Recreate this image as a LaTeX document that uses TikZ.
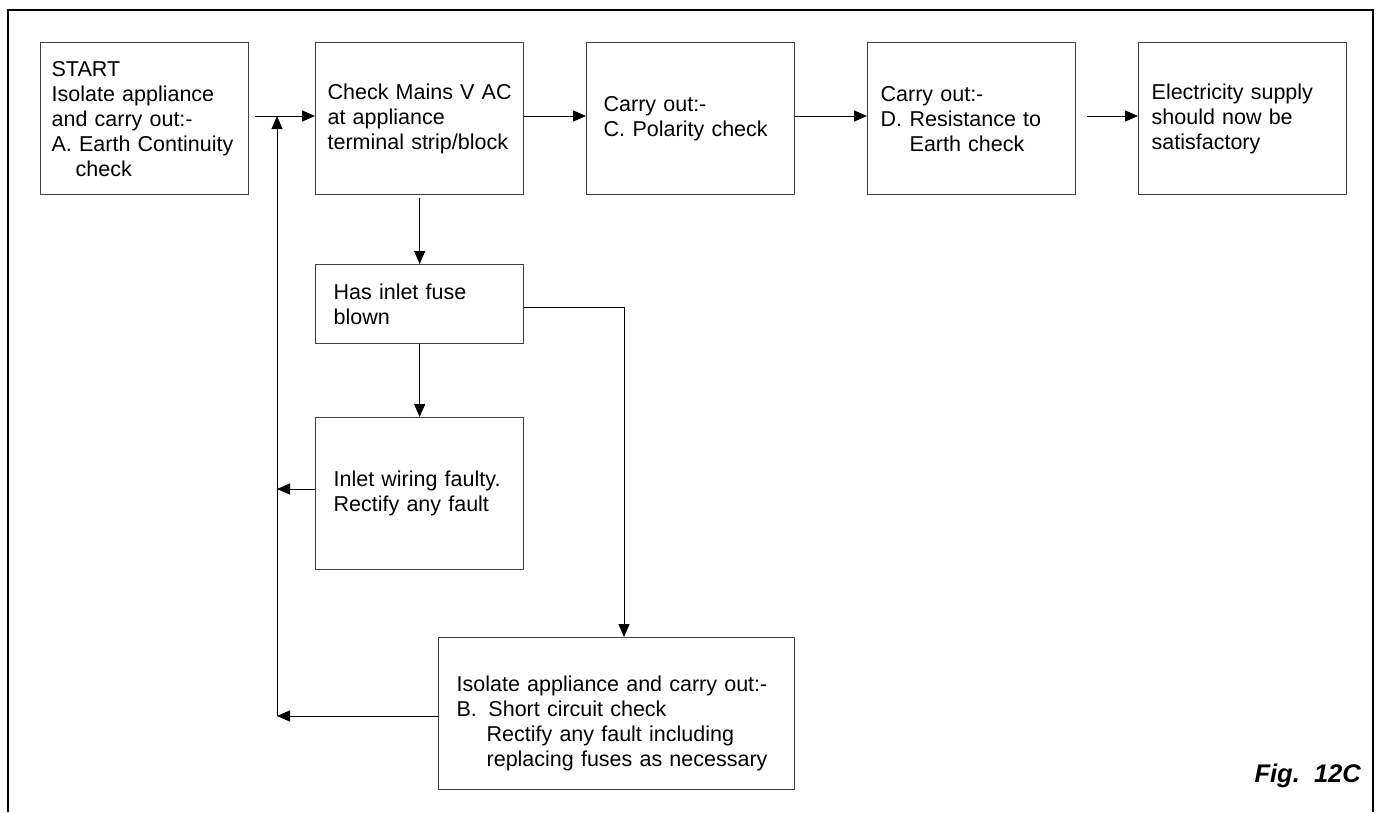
\documentclass[tikz,border=0pt]{standalone}
\usepackage{fontspec}
\setmainfont{Liberation Sans}
\usetikzlibrary{arrows.meta}
\begin{document}
\begin{tikzpicture}[x=1pt,y=-1pt,
  box/.style={draw=black!75, line width=1.3pt, rectangle, anchor=north west,
    align=left, inner ysep=0pt, font=\fontsize{21.5}{25}\selectfont},
  arr/.style={draw=black, line width=1pt, -{Triangle[length=13pt,width=11pt]}},
  conn/.style={draw=black, line width=1pt}]
\useasboundingbox (0,0) rectangle (1380,812);
% frame (bottom edge lies outside the picture)
\draw[line width=2pt] (8,812) -- (8,10) -- (1373,10) -- (1373,812);

\node[box, minimum width=208, minimum height=152, inner xsep=11, text width=186] (b1) at (40,42)
 {START\\Isolate appliance\\and carry out:-\\A. Earth Continuity\\\hspace*{24pt}check};
\node[box, minimum width=208, minimum height=152, inner xsep=12, text width=184] (b2) at (315,42)
 {Check Mains V AC\\at appliance\\terminal strip/block};
\node[box, minimum width=208, minimum height=152, inner xsep=17, text width=174] (b3) at (586,42)
 {Carry out:-\\C.\hspace*{7.5pt}Polarity check};
\node[box, minimum width=208, minimum height=152, inner xsep=13, text width=182] (b4) at (867,42)
 {Carry out:-\\D.\hspace*{7.5pt}Resistance to\\\hspace*{29pt}Earth check};
\node[box, minimum width=208, minimum height=152, inner xsep=13, text width=182] (b5) at (1138,42)
 {Electricity supply\\should now be\\satisfactory};
\node[box, minimum width=208, minimum height=79, inner xsep=18, text width=172] (fuse) at (315,264)
 {Has inlet fuse\\blown};
\node[box, minimum width=208, minimum height=152, inner xsep=18, text width=172] (wire) at (315,417)
 {Inlet wiring faulty.\\Rectify any fault};
\node[box, minimum width=356, minimum height=152, inner xsep=18, text width=320] (bB) at (438,637)
 {\rule{0pt}{36pt}Isolate appliance and carry out:-\\B.\hspace*{11.5pt}Short circuit check\\\hspace*{30pt}Rectify any fault including\\\hspace*{30pt}replacing fuses as necessary};

\node[font=\fontsize{25.5}{30}\selectfont\bfseries\itshape, anchor=base east, inner sep=0pt] (fig) at (1361,782) {Fig.\ \ 12C};

% connector coordinates
\coordinate (s1) at (255,116);
\coordinate (j) at (277,116);
\coordinate (s4) at (1087,116);
\coordinate (c7) at (624,307);
\coordinate (f1) at (277,489);
\coordinate (f2) at (277,716);

\draw[arr] (s1) -- (s1 -| b2.west);
\draw[arr] (j -| b2.east) -- (j -| b3.west);
\draw[arr] (j -| b3.east) -- (j -| b4.west);
\draw[arr] (s4) -- (s4 -| b5.west);
\draw[arr, shorten <=3pt] (b2.south) -- (fuse.north);
\draw[arr] (fuse.south) -- (wire.north);
\draw[arr] (c7 -| fuse.east) -- (c7) -- (c7 |- bB.north);
\draw[arr] (f1 -| wire.west) -- (f1);
\draw[arr] (f2 -| bB.west) -- (f2);
\draw[arr] (f2) -- (j);
\end{tikzpicture}
\end{document}
